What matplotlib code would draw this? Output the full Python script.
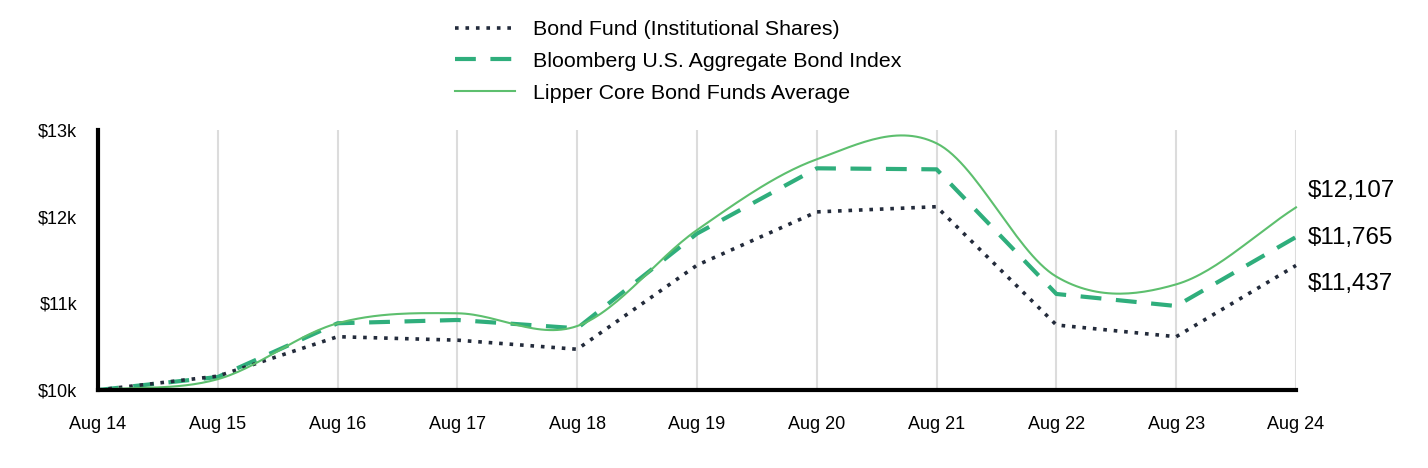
import matplotlib
matplotlib.use("Agg")
import matplotlib.pyplot as plt
import numpy as np

plt.rcParams['font.family'] = ['Liberation Sans', 'DejaVu Sans']

# data (growth of $10k)
years = ["Aug 14", "Aug 15", "Aug 16", "Aug 17", "Aug 18", "Aug 19",
         "Aug 20", "Aug 21", "Aug 22", "Aug 23", "Aug 24"]
bond_fund = [10000, 10160, 10615, 10575, 10470, 11440, 12055, 12115, 10750, 10615, 11437]
bloomberg = [10000, 10150, 10770, 10808, 10712, 11805, 12558, 12546, 11108, 10969, 11765]
lipper = [10000, 10125, 10770, 10885, 10738, 11846, 12662, 12846, 11308, 11219, 12107]

series_names = ["Bond Fund (Institutional Shares)",
                "Bloomberg U.S. Aggregate Bond Index",
                "Lipper Core Bond Funds Average"]
y_ticks = [10000, 11000, 12000, 13000]
y_tick_labels = ["$10k", "$11k", "$12k", "$13k"]

c_bond = "#232b3b"
c_bloom = "#2fae7c"
c_lipper = "#5dbf6e"


def catmull_rom(xs, ys, steps=30):
    # smooth curve through the points, only for drawing the Lipper line
    xs = np.asarray(xs, float)
    ys = np.asarray(ys, float)
    px = np.concatenate([[2 * xs[0] - xs[1]], xs, [2 * xs[-1] - xs[-2]]])
    py = np.concatenate([[2 * ys[0] - ys[1]], ys, [2 * ys[-1] - ys[-2]]])
    out_x, out_y = [], []
    t = np.linspace(0, 1, steps, endpoint=False)
    for i in range(1, len(px) - 2):
        for arr, out in ((px, out_x), (py, out_y)):
            p0, p1, p2, p3 = arr[i - 1], arr[i], arr[i + 1], arr[i + 2]
            out.extend(0.5 * ((2 * p1) + (-p0 + p2) * t
                              + (2 * p0 - 5 * p1 + 4 * p2 - p3) * t ** 2
                              + (-p0 + 3 * p1 - 3 * p2 + p3) * t ** 3))
    out_x.append(xs[-1])
    out_y.append(ys[-1])
    return np.array(out_x), np.array(out_y)


x = np.arange(len(years))

fig = plt.figure(figsize=(14.28, 4.68), dpi=100)
ax = fig.add_axes([98 / 1428, 1 - 390 / 468, (1296 - 98) / 1428, 260 / 468])

lx, ly = catmull_rom(x, lipper)
ax.plot(x, bond_fund, color=c_bond, lw=2.6, linestyle=(0, (1, 1.9)),
        label=series_names[0], zorder=4, clip_on=False)
ax.plot(x, bloomberg, color=c_bloom, lw=3.0, linestyle=(0, (5, 3.5)),
        label=series_names[1], zorder=3, clip_on=False)
ax.plot(lx, ly, color=c_lipper, lw=1.5, label=series_names[2], zorder=5,
        clip_on=False)

ax.set_xlim(0, len(years) - 1)
ax.set_ylim(10000, 13000)
ax.set_xticks(x)
ax.set_xticklabels(years, fontsize=13)
ax.set_yticks(y_ticks)
ax.set_yticklabels(y_tick_labels, fontsize=13)
ax.tick_params(axis="x", length=0, pad=19)
ax.tick_params(axis="y", length=0, pad=15)

ax.grid(axis="x", color="#dcdcdc", lw=1.5)
ax.grid(axis="y", visible=False)
ax.set_axisbelow(True)

for s in ("top", "right"):
    ax.spines[s].set_visible(False)
for s in ("left", "bottom"):
    ax.spines[s].set_linewidth(3)
    ax.spines[s].set_color("black")
    ax.spines[s].set_zorder(6)

# end value labels
end_vals = [lipper[-1], bloomberg[-1], bond_fund[-1]]
offsets = [11.5, -0.5, -13.5]
for v, off in zip(end_vals, offsets):
    ax.annotate(f"${v:,}", xy=(x[-1], v), xytext=(8.5, off),
                textcoords="offset points", fontsize=17.4, va="center",
                ha="left", annotation_clip=False)

fig.legend(loc="upper left", bbox_to_anchor=(455 / 1428, 1 - 20 / 468),
           frameon=False, fontsize=15.4, handlelength=2.8,
           handletextpad=0.85, labelspacing=0.6, borderpad=0,
           borderaxespad=0)

fig.savefig("out.png", dpi=100)
